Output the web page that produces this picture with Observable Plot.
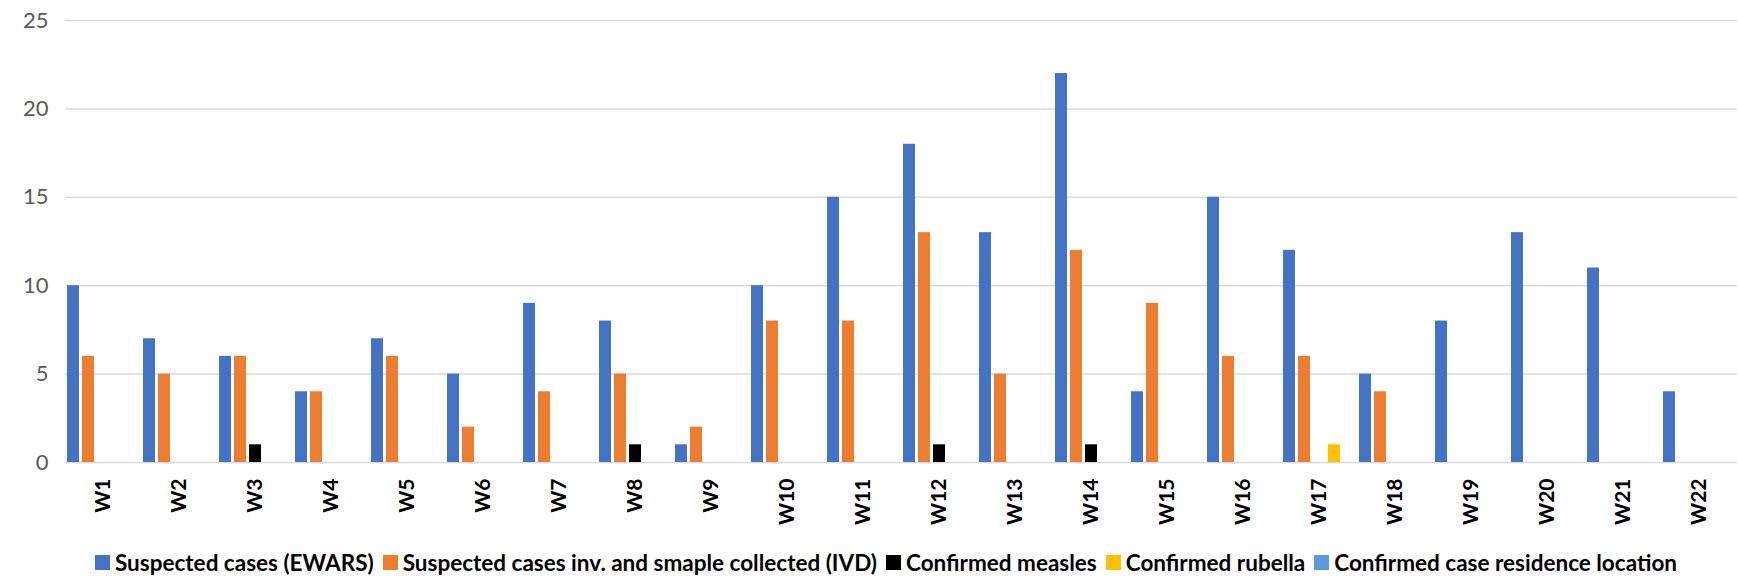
<!DOCTYPE html>
<html>
<head>
<meta charset="utf-8">
<script src="https://cdn.jsdelivr.net/npm/d3@7"></script>
<script src="https://cdn.jsdelivr.net/npm/@observablehq/plot@0.6"></script>
<style>
  html, body { margin: 0; padding: 0; background: #fff; }
  body { width: 1738px; font-family: Lato, "Noto Sans", sans-serif; }
  #legend { display: flex; justify-content: center; align-items: center; height: 44px; font-weight: bold; font-size: 22.5px; color: #000; gap: 9px; padding-left: 34px; }
  #legend .item { display: flex; align-items: center; gap: 5px; }
  #legend .sw { width: 15px; height: 15px; display: inline-block; }
</style>
</head>
<body>
<div id="chart"></div>
<div id="legend"></div>
<script>
const weeks = ["W1","W2","W3","W4","W5","W6","W7","W8","W9","W10","W11","W12","W13","W14","W15","W16","W17","W18","W19","W20","W21","W22"];
const suspectedEWARS = [10,7,6,4,7,5,9,8,1,10,15,18,13,22,4,15,12,5,8,13,11,4];
const suspectedIVD   = [6,5,6,4,6,2,4,5,2,8,8,13,5,12,9,6,6,4,0,0,0,0];
const confirmedMeasles = [0,0,1,0,0,0,0,1,0,0,0,1,0,1,0,0,0,0,0,0,0,0];
const confirmedRubella = [0,0,0,0,0,0,0,0,0,0,0,0,0,0,0,0,1,0,0,0,0,0];
const residenceLocation = [0,0,0,0,0,0,0,0,0,0,0,0,0,0,0,0,0,0,0,0,0,0];
const seriesNames = [
  "Suspected cases (EWARS)",
  "Suspected cases inv. and smaple collected (IVD)",
  "Confirmed measles",
  "Confirmed rubella",
  "Confirmed case residence location"
];
const seriesColors = ["#4472C4","#ED7D31","#000000","#FFC000","#5B9BD5"];
const yTicks = [0,5,10,15,20,25];

const seriesValues = [suspectedEWARS, suspectedIVD, confirmedMeasles, confirmedRubella, residenceLocation];
const data = weeks.flatMap((w, i) => seriesNames.map((s, j) => ({week: w, series: s, value: seriesValues[j][i]})));

const chart = Plot.plot({
  width: 1738,
  height: 540,
  marginTop: 20,
  marginLeft: 63,
  marginRight: 0,
  marginBottom: 78,
  style: {fontFamily: "Lato, 'Noto Sans', sans-serif", background: "#fff"},
  fx: {domain: weeks, padding: 0, label: null},
  x: {domain: seriesNames, paddingInner: 0.2, paddingOuter: 0.1, axis: null},
  y: {domain: [0, 25], label: null},
  color: {domain: seriesNames, range: seriesColors},
  marks: [
    Plot.gridY(yTicks, {stroke: "#d9d9d9", strokeOpacity: 1, strokeWidth: 1.5}),
    Plot.barY(data, {fx: "week", x: "series", y: "value", fill: "series"}),
    Plot.axisY(yTicks, {tickSize: 0, tickPadding: 17, fontSize: 22, fill: "#595959", label: null}),
    Plot.axisFx({anchor: "bottom", tickSize: 0, tickPadding: 16, tickRotate: -90, textAnchor: "end", fontSize: 21, fontWeight: "bold", fill: "#000", label: null})
  ]
});
document.getElementById("chart").appendChild(chart);

const legend = document.getElementById("legend");
seriesNames.forEach((s, i) => {
  const item = document.createElement("span");
  item.className = "item";
  const sw = document.createElement("span");
  sw.className = "sw";
  sw.style.background = seriesColors[i];
  const t = document.createElement("span");
  t.textContent = s;
  item.appendChild(sw);
  item.appendChild(t);
  legend.appendChild(item);
});
</script>
</body>
</html>
